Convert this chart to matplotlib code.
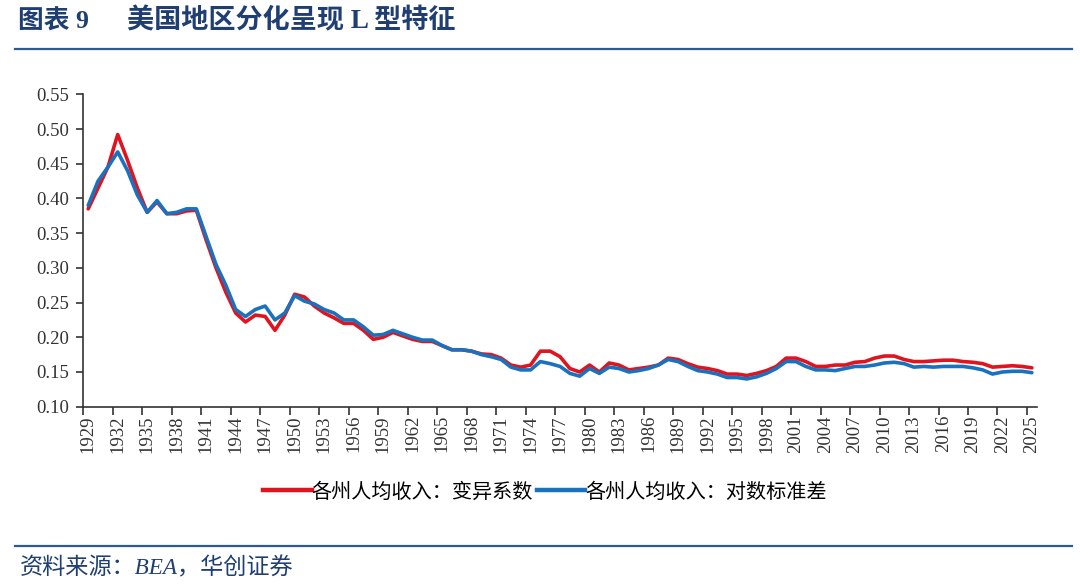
import matplotlib
matplotlib.use("Agg")
import matplotlib.pyplot as plt
from matplotlib.lines import Line2D
import numpy as np

years = list(range(1929, 2026))
cv = [0.385, 0.415, 0.445, 0.492, 0.455, 0.415, 0.380, 0.395, 0.378, 0.378,
      0.382, 0.383, 0.340, 0.300, 0.265, 0.235, 0.222, 0.232, 0.230, 0.210,
      0.232, 0.262, 0.258, 0.245, 0.235, 0.228, 0.220, 0.220, 0.210, 0.197,
      0.200, 0.207, 0.202, 0.197, 0.194, 0.194, 0.188, 0.182, 0.182, 0.180,
      0.176, 0.175, 0.170, 0.160, 0.157, 0.160, 0.180, 0.180, 0.172, 0.155,
      0.150, 0.160, 0.150, 0.163, 0.160, 0.153, 0.155, 0.157, 0.160, 0.170,
      0.168, 0.162, 0.157, 0.155, 0.152, 0.147, 0.147, 0.145, 0.148, 0.152,
      0.158, 0.170, 0.170, 0.165, 0.158, 0.158, 0.160, 0.160, 0.164, 0.165,
      0.170, 0.173, 0.173, 0.168, 0.165, 0.165, 0.166, 0.167, 0.167, 0.165,
      0.164, 0.162, 0.157, 0.158, 0.159, 0.158, 0.156]
logsd = [0.390, 0.425, 0.445, 0.467, 0.440, 0.405, 0.380, 0.397, 0.378, 0.380,
         0.385, 0.385, 0.345, 0.305, 0.275, 0.240, 0.230, 0.240, 0.245, 0.225,
         0.235, 0.260, 0.252, 0.248, 0.240, 0.235, 0.225, 0.225, 0.215, 0.203,
         0.204, 0.210, 0.205, 0.200, 0.196, 0.196, 0.188, 0.182, 0.182, 0.180,
         0.175, 0.172, 0.168, 0.157, 0.153, 0.153, 0.165, 0.162, 0.158, 0.148,
         0.144, 0.155, 0.148, 0.157, 0.155, 0.150, 0.152, 0.155, 0.160, 0.168,
         0.165, 0.158, 0.152, 0.150, 0.147, 0.142, 0.142, 0.140, 0.143, 0.148,
         0.155, 0.165, 0.165, 0.158, 0.153, 0.153, 0.152, 0.155, 0.158, 0.158,
         0.160, 0.163, 0.164, 0.162, 0.157, 0.158, 0.157, 0.158, 0.158, 0.158,
         0.156, 0.153, 0.147, 0.150, 0.151, 0.151, 0.149]

series_names = ["各州人均收入：变异系数", "各州人均收入：对数标准差"]
colors = ["#E0141E", "#1A72BE"]
title_label = "图表 9"
title_text = "美国地区分化呈现 L 型特征"
source = "资料来源：BEA，华创证券"
yticks = [0.10, 0.15, 0.20, 0.25, 0.30, 0.35, 0.40, 0.45, 0.50, 0.55]

cjk = ["Noto Sans CJK SC", "DejaVu Sans"]
mixed = ["Liberation Serif", "Noto Sans CJK SC", "DejaVu Sans"]
serif = ["Liberation Serif", "DejaVu Serif"]

fig = plt.figure(figsize=(10.8, 5.84), dpi=100)
ax = fig.add_axes([83.3 / 1080, 1 - 406.7 / 584, (1036.8 - 83.3) / 1080, (406.7 - 94.3) / 584])

x = np.arange(len(years))
ax.plot(x, cv, color=colors[0], lw=2.6, solid_capstyle="round", zorder=3)
ax.plot(x, logsd, color=colors[1], lw=2.6, solid_capstyle="round", zorder=4)

ax.set_xlim(-0.5, len(years) - 0.5)
ax.set_ylim(0.10, 0.55)
ax.set_yticks(yticks)
ax.set_yticklabels([f"{v:.2f}" for v in yticks], fontsize=13.5, family=serif, color="#333333")
ax.set_xticks(x[::3])
ax.set_xticklabels([str(y) for y in years[::3]], rotation=90, fontsize=13.5, family=serif, color="#333333")
ax.tick_params(axis="x", which="major", length=0, pad=6)
ax.set_xticks(np.arange(-0.5, len(years), 3), minor=True)
ax.tick_params(axis="x", which="minor", length=6, direction="out", color="#333333", width=1.2)
ax.tick_params(axis="y", length=5, direction="out", color="#333333", width=1.2, pad=5)
for s in ["top", "right"]:
    ax.spines[s].set_visible(False)
for s in ["left", "bottom"]:
    ax.spines[s].set_color("#333333")
    ax.spines[s].set_linewidth(1.2)

handles = [Line2D([], [], color=c, lw=3.2) for c in colors]
fig.legend(handles, series_names, loc="center", bbox_to_anchor=(545 / 1080, 1 - 492 / 584),
           ncol=2, frameon=False, prop={"family": cjk, "size": 14.5}, handlelength=2.4,
           handletextpad=0.0, columnspacing=0.2)

fig.text(18 / 1080, 1 - 21 / 584, title_label, family=mixed, fontsize=18.5, fontweight="bold",
         color="#1F3F73", va="center", ha="left")
fig.text(127 / 1080, 1 - 21 / 584, title_text, family=mixed, fontsize=19.5, fontweight="bold",
         color="#1F3F73", va="center", ha="left")
fig.add_artist(Line2D([15 / 1080, 1072 / 1080], [1 - 49 / 584, 1 - 49 / 584], color="#2E5A94", lw=1.6))
fig.add_artist(Line2D([15 / 1080, 1072 / 1080], [1 - 546 / 584, 1 - 546 / 584], color="#2E5A94", lw=1.6))
fig.text(20 / 1080, 1 - 568 / 584, source, family=mixed, fontsize=16.7, style="italic",
         color="#1F3F73", va="center", ha="left")

fig.savefig("out.png", dpi=100, facecolor="white")
